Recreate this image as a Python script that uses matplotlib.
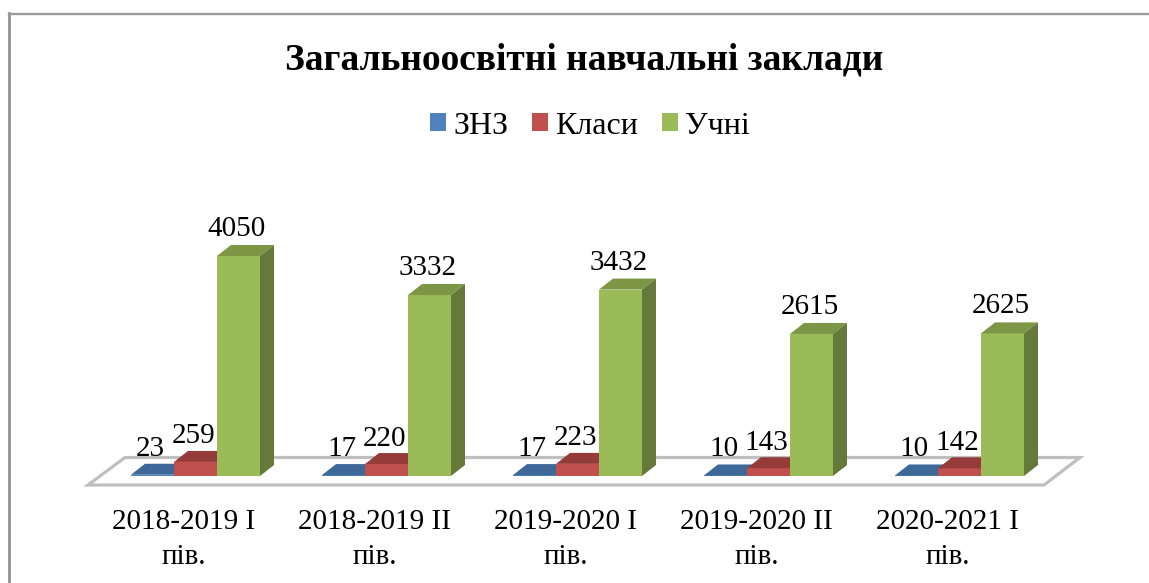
import matplotlib
matplotlib.use('Agg')
import matplotlib.pyplot as plt
from matplotlib.patches import Patch, Polygon
from matplotlib.lines import Line2D
import numpy as np

categories = ['2018-2019 I\nпів.', '2018-2019 II\nпів.', '2019-2020 I\nпів.',
              '2019-2020 II\nпів.', '2020-2021 I\nпів.']
znz = [23, 17, 17, 10, 10]
klasy = [259, 220, 223, 143, 142]
uchni = [4050, 3332, 3432, 2615, 2625]
series_names = ['ЗНЗ', 'Класи', 'Учні']

plt.rcParams['font.family'] = ['Liberation Serif', 'DejaVu Serif']

W, H = 1149, 583
fig = plt.figure(figsize=(W / 100, H / 100), dpi=100)

# axes run from the first to the last category centre region, y=0 on the bar base line
left, right, top, base = 4.5, 1152.5, 190, 476
px_per_unit = 220 / 4050
px_per_cat = 191
ax = fig.add_axes([left / W, 1 - base / H, (right - left) / W, (base - top) / H])
ax.set_xlim((left - 195.5) / px_per_cat, (right - 195.5) / px_per_cat)
ax.set_ylim(0, (base - top) / px_per_unit)
for s in ax.spines.values():
    s.set_visible(False)
ax.patch.set_alpha(0)

bar_w = 43 / px_per_cat
depth_x = 14 / px_per_cat
depth_y = 11 / px_per_unit

# front, top, side colours for each series
colours = [('#4f81bd', '#3d6897', '#38608c'),
           ('#c0504d', '#953b39', '#8a3836'),
           ('#9bbb59', '#7c9646', '#65793a')]

# floor of the 3d chart
dx = 1 / px_per_cat
dy = 1 / px_per_unit
floor = [(-107.5 * dx, -9 * dy), (848.5 * dx, -9 * dy), (884.5 * dx, 18.5 * dy), (-70.5 * dx, 18.5 * dy)]
ax.add_patch(Polygon(floor, closed=True, fc='white', ec='#bfbfbf', lw=2.3, clip_on=False, zorder=1))

x = np.arange(len(categories))
all_values = [znz, klasy, uchni]
label_lift = [19, 18.5, 20]  # px above the bar front, per series
for j, vals in enumerate(all_values):
    offs = (j - 1) * bar_w
    front, roof, side = colours[j]
    ax.bar(x + offs, vals, bar_w, color=front, zorder=2 + j)
    for xi, v in zip(x + offs, vals):
        l, r = xi - bar_w / 2, xi + bar_w / 2
        ax.add_patch(Polygon([(l, v), (r, v), (r + depth_x, v + depth_y), (l + depth_x, v + depth_y)],
                             fc=roof, ec='none', zorder=2 + j))
        ax.add_patch(Polygon([(r, 0), (r, v), (r + depth_x, v + depth_y), (r + depth_x, depth_y)],
                             fc=side, ec='none', zorder=2 + j))
        ax.annotate(str(v), (xi, v), xytext=(-2, label_lift[j]), textcoords='offset pixels', ha='center',
                    va='baseline', fontsize=21, color='black', zorder=10)

ax.set_yticks([])
# category labels sit a bit left of the group centres in the original
ax.set_xticks(x - 12 / px_per_cat, categories, fontsize=21, linespacing=1.42)
ax.tick_params(axis='x', length=0, pad=24)

# left and top edge of the chart frame, the rest is cropped
fig.add_artist(Line2D([9 / W, 9 / W], [0, 1 - 13 / H], color='#8c8c8c', lw=1.9))
fig.add_artist(Line2D([9 / W, 1], [1 - 13.5 / H, 1 - 13.5 / H], color='#9a9a9a', lw=1.7))

fig.text(584 / W, 1 - 60 / H, 'Загальноосвітні навчальні заклади', ha='center', va='center',
         fontsize=26.9, fontweight='bold', color='black')

handles = [Patch(fc=c[0], ec='none') for c in colours]
fig.legend(handles, series_names, ncol=3, loc='center', bbox_to_anchor=(590 / W, 1 - 126 / H),
           frameon=False, fontsize=23, handlelength=0.5, handleheight=0.5,
           handletextpad=0.22, columnspacing=0.75)

fig.savefig('out.png', dpi=100)
